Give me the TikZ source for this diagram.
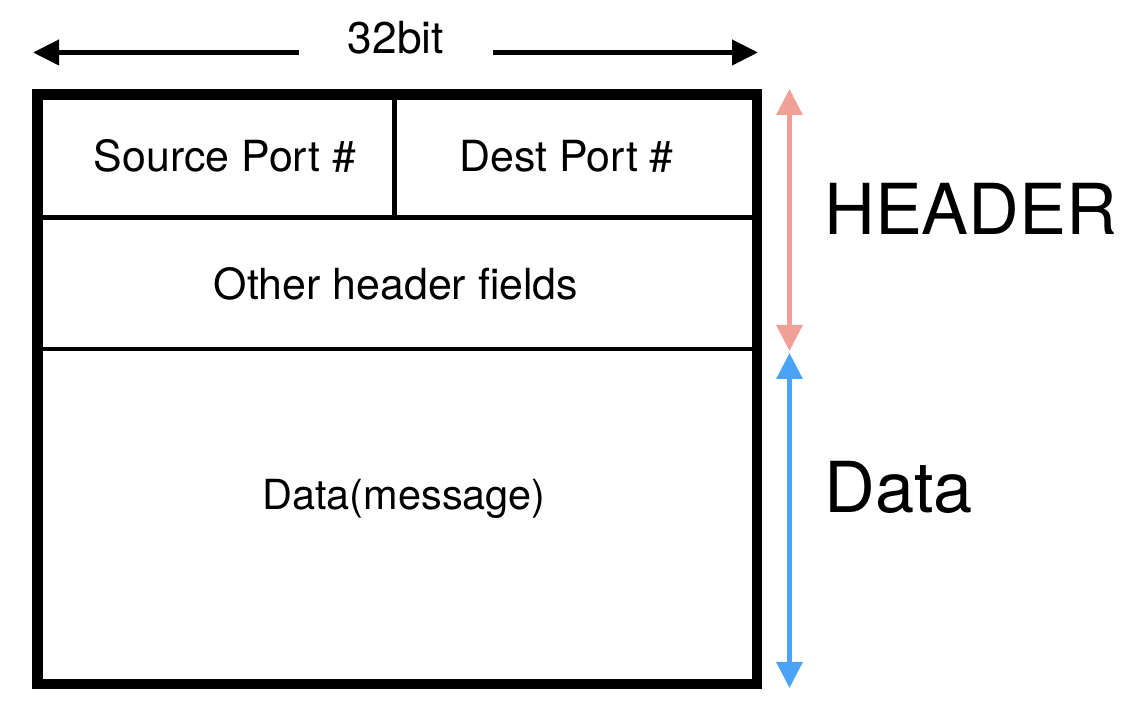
\documentclass[tikz,border=0pt]{standalone}
\usepackage{fontspec}
\setmainfont{TeX Gyre Heros}
\usepackage{tikz}
\usetikzlibrary{arrows.meta,positioning}
\definecolor{hdrpink}{RGB}{240,160,150}
\definecolor{datablue}{RGB}{75,163,247}
\tikzset{
    field/.style={inner sep=0pt,font=\fontsize{30.5}{36}\selectfont},
    side/.style={inner sep=0pt,anchor=base west,font=\fontsize{50}{60}\selectfont},
    span/.style={line width=3.2pt,{Triangle[length=0.65cm,width=0.64cm]}-{Triangle[length=0.65cm,width=0.64cm]}},
}
\begin{document}
\begin{tikzpicture}
    \useasboundingbox (0,0) rectangle (28.25,17.65);
    % segment frame
    \coordinate (nw) at (0.9375,15.2875);
    \coordinate (se) at (18.925,0.55);
    \path [draw,line width=7.5pt] (nw) rectangle (se);
    \path [draw,line width=3pt] (0.9375,12.2125) coordinate (rowA) -- (18.925,12.2125);
    \path [draw,line width=3pt] (0.9375,8.925) coordinate (rowB) -- (18.925,8.925);
    \path [draw,line width=3pt] (9.8625,15.2875) -- (9.8625,12.2125);
    % field texts
    \node (src) at (5.625,13.35) [field,anchor=base] {Source Port \#};
    \node (dst) at (14.1625,13.35) [field,anchor=base] {Dest Port \#};
    \node (other) at (9.9,10.15) [field,anchor=base] {Other header fields};
    \node (msg) at (10.1,4.9) [field,anchor=base,font=\fontsize{29.5}{34}\selectfont] {Data(message)};
    % width of the segment
    \node (bits) at (9.9,16.32) [field,anchor=base,inner xsep=1.22cm,font=\fontsize{31.5}{36}\selectfont] {32bit};
    \coordinate (bitL) at (0.825,16.3375);
    \coordinate (bitR) at (18.95,16.3375);
    \path [draw,line width=3.5pt,-{Triangle[length=0.65cm,width=0.62cm]}] (bits.base west) ++(0,0.0175) -- (bitL);
    \path [draw,line width=3.5pt,-{Triangle[length=0.65cm,width=0.62cm]}] (bits.base east) ++(0,0.0175) -- (bitR);
    % header and data spans
    \coordinate (hdrTop) at (19.7375,15.425);
    \coordinate (hdrBot) at (19.7375,8.875);
    \coordinate (dataTop) at (19.7375,8.825);
    \coordinate (dataBot) at (19.7375,0.45);
    \path [draw,span,hdrpink] (hdrTop) -- (hdrBot);
    \path [draw,span,datablue] (dataTop) -- (dataBot);
    \node (header) at (20.6,11.775) [side] {HEADER};
    \node (data) at (20.6,4.825) [side] {Data};
\end{tikzpicture}
\end{document}
